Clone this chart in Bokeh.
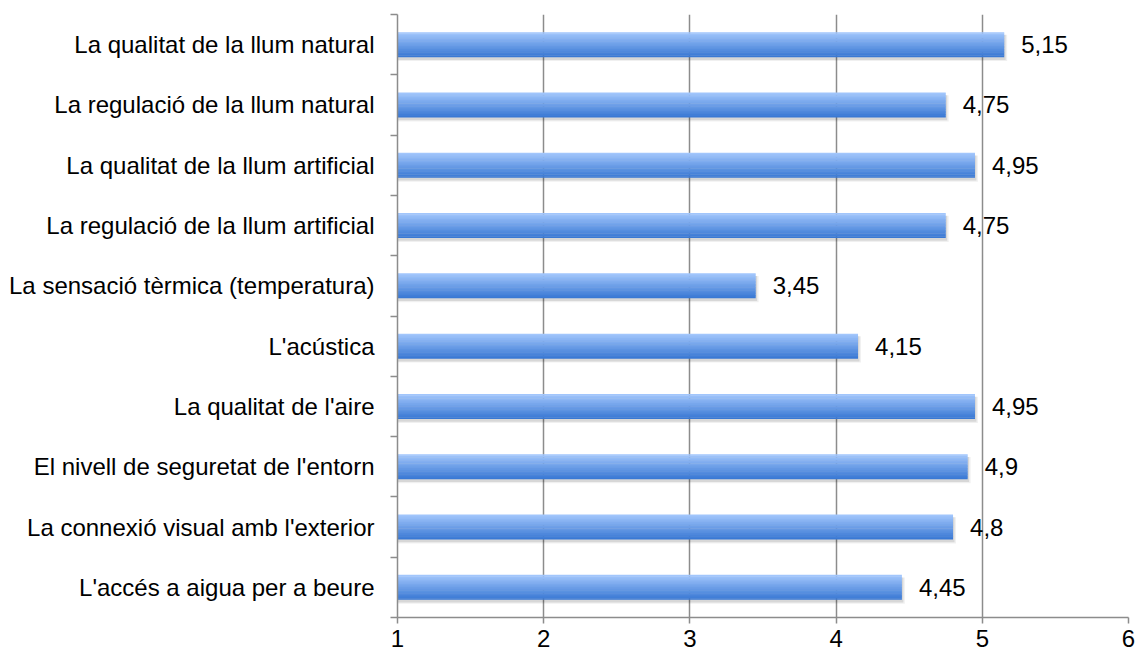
from bokeh.plotting import figure
from bokeh.models import ColumnDataSource, Range1d, FixedTicker
from bokeh.transform import dodge
from bokeh.core.properties import value
from bokeh.embed import file_html
from bokeh.resources import INLINE

categories = [
    "La qualitat de la llum natural",
    "La regulació de la llum natural",
    "La qualitat de la llum artificial",
    "La regulació de la llum artificial",
    "La sensació tèrmica (temperatura)",
    "L'acústica",
    "La qualitat de l'aire",
    "El nivell de seguretat de l'entorn",
    "La connexió visual amb l'exterior",
    "L'accés a aigua per a beure",
]
values = [5.15, 4.75, 4.95, 4.75, 3.45, 4.15, 4.95, 4.9, 4.8, 4.45]
x_ticks = [1, 2, 3, 4, 5, 6]

n = len(categories)
ypos = [n - i - 0.5 for i in range(n)]
labels = [f"{v:g}".replace(".", ",") for v in values]
src = ColumnDataSource(dict(y=ypos, val=values, left=[x_ticks[0]] * n, lab=labels))

FONT = "Liberation Sans"
GRAY = "#8c8c8c"

p = figure(width=1135, height=654, x_range=Range1d(x_ticks[0], x_ticks[-1]),
           y_range=Range1d(0, n), output_backend="svg", toolbar_location=None,
           min_border_left=397, min_border_right=7, min_border_top=14, min_border_bottom=37)
p.outline_line_color = None
p.background_fill_color = "white"
p.border_fill_color = "white"

# x axis
p.xaxis.ticker = FixedTicker(ticks=x_ticks)
p.xaxis.axis_line_color = GRAY
p.xaxis.axis_line_width = 1.5
p.xaxis.major_tick_line_color = GRAY
p.xaxis.major_tick_line_width = 1.5
p.xaxis.major_tick_out = 6
p.xaxis.major_tick_in = 0
p.xaxis.minor_tick_line_color = None
p.xaxis.major_label_text_font = FONT
p.xaxis.major_label_text_font_size = "24px"
p.xaxis.major_label_text_color = "black"
p.xaxis.major_label_standoff = 6

# y axis
p.yaxis.ticker = FixedTicker(ticks=ypos, minor_ticks=list(range(n + 1)))
p.yaxis.major_label_overrides = {y: c for y, c in zip(ypos, categories)}
p.yaxis.axis_line_color = GRAY
p.yaxis.axis_line_width = 1.5
p.yaxis.major_tick_line_color = None
p.yaxis.major_tick_out = 0
p.yaxis.major_tick_in = 0
p.yaxis.minor_tick_line_color = GRAY
p.yaxis.minor_tick_line_width = 1.5
p.yaxis.minor_tick_out = 7
p.yaxis.minor_tick_in = 0
p.yaxis.major_label_text_font = FONT
p.yaxis.major_label_text_font_size = "24px"
p.yaxis.major_label_text_color = "black"
p.yaxis.major_label_standoff = 16

# grid
p.ygrid.grid_line_color = None
p.xgrid.ticker = FixedTicker(ticks=x_ticks)
p.xgrid.grid_line_color = GRAY
p.xgrid.grid_line_width = 1.5

h = 0.415
# shadow
p.hbar(y=dodge('y', -0.055), left='left', right=dodge('val', 0.02), height=h + 0.02,
       fill_color="black", fill_alpha=0.06, line_color=None, source=src)
p.hbar(y=dodge('y', -0.045), left='left', right=dodge('val', 0.01), height=h,
       fill_color="black", fill_alpha=0.10, line_color=None, source=src)

# gradient bars
N = 16
top = (162, 198, 252)
bot = (58, 121, 212)
for k in range(N):
    t = k / (N - 1)
    c = tuple(int(round(top[j] + (bot[j] - top[j]) * t)) for j in range(3))
    col = "#%02x%02x%02x" % c
    off = h / 2 - (k + 0.5) * h / N
    hh = h / N * (1.3 if k not in (0, N - 1) else 1.0)
    p.hbar(y=dodge('y', off), left='left', right='val', height=hh,
           fill_color=col, line_color=None, source=src)

p.text(x='val', y='y', text='lab', x_offset=17, text_baseline='middle', text_align='left',
       text_font=value(FONT), text_font_size="24px", text_color="black", source=src)

open("out.html", "w").write(file_html(p, INLINE))
